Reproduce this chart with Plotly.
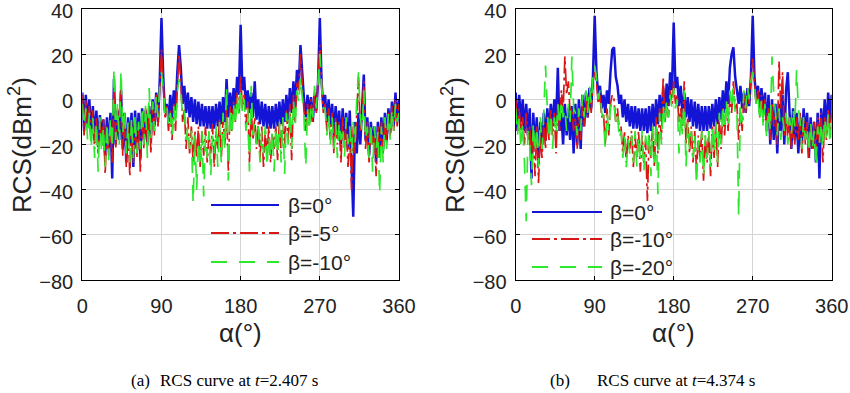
import plotly.graph_objects as go

# sampling of the rotation angle alpha (degrees)
alpha = list(range(0, 361, 2))
x_ticks = [0, 90, 180, 270, 360]
y_ticks = [-80, -60, -40, -20, 0, 20, 40]

# ---------- (a) t = 2.407 s ----------
a_beta0 = [
    3, -14, 2, -12, 0, -16, -3, -18, -5, -21,
    -7, -16, -9, -25, -8, -22, -6, -35, 9, -20,
    -5, -18, 4, -22, -6, -28, -8, -20, -6, -30,
    -5, -22, -6, -26, -4, -18, -5, -20, -3, -16,
    0, -12, 3, -10, 8, 36, 10, -6, -2, -10,
    2, -8, 4, -5, 12, 24, 14, -2, 6, -6,
    3, -8, 1, -10, 0, -11, -1, -12, -2, -12,
    -3, -13, -3, -13, -3, -13, -2, -12, -1, -11,
    1, -10, 9, -8, 3, -6, 5, -4, 10, 2,
    33, 4, 10, -4, 4, -6, 3, -8, 8, -9,
    0, -11, -1, -12, -2, -13, -3, -13, -3, -13,
    -2, -12, -1, -11, 0, -10, 2, -9, 5, -6,
    8, -3, 13, 5, 24, 10, 0, -8, 2, -6,
    1, -10, 2, -5, 8, 36, 8, -4, 2, -10,
    0, -12, -2, -16, -3, -14, -5, -20, -4, -18,
    -6, -22, -5, -28, -52, -10, -24, -6, -20, -4,
    11, -18, -8, -25, -10, -20, -12, -28, -10, -24,
    -8, -22, -6, -18, -4, -15, -1, -12, 3, -10,
    0]
a_beta5 = [
    2, -16, 0, -12, -3, -18, -5, -22, -8, -24,
    -10, -20, -8, -33, -12, -25, -10, -28, 6, -22,
    -4, -15, 8, -25, -8, -30, -12, -34, -10, -28,
    -8, -26, -12, -32, -6, -22, -4, -20, -2, -24,
    -1, -16, 2, -12, 5, 22, 8, -8, -3, -14,
    -5, -18, -2, -14, 6, 20, 8, -10, -4, -22,
    -8, -24, -12, -28, -14, -26, -12, -30, -14, -25,
    -12, -28, -15, -24, -11, -30, -14, -22, -9, -26,
    -8, -20, -4, -32, -3, -14, -1, -10, 3, -6,
    10, -4, 2, -12, -1, -28, -5, -18, -8, -22,
    -10, -26, -12, -30, -14, -25, -12, -28, -15, -22,
    -12, -27, -10, -24, -8, -20, -5, -18, -2, -27,
    2, -10, 8, 4, 20, 6, -5, -14, -2, -12,
    0, -10, 4, -6, 10, 24, 8, -6, -2, -14,
    -4, -18, -6, -24, -8, -20, -10, -28, -8, -22,
    -10, -30, -14, -40, -12, -24, -6, 10, -14, -8,
    8, -22, -10, -28, -12, -20, -14, -34, -12, -26,
    -10, -24, -8, -20, -6, -16, -3, -14, 0, -12,
    -2]
a_beta10 = [
    -2, -12, -4, -18, -6, -22, -8, -26, -10, -32,
    -8, -24, -12, -30, -10, -27, -8, -22, 14, -18,
    -2, -20, 13, -15, -4, -24, -10, -28, -8, -26,
    -6, -24, -10, -22, -3, -20, -2, -26, 5, -18,
    -1, -14, 2, -8, 6, 12, 5, -6, -2, -12,
    -6, -16, -3, -12, 3, 9, 4, -8, -5, -18,
    -12, -22, -14, -46, -16, -40, -18, -30, -14, -43,
    -16, -26, -14, -34, -16, -24, -12, -30, -10, -28,
    -6, -22, 6, -36, -4, -16, -2, -12, 2, -8,
    5, -6, 0, -14, -4, -32, 6, -16, -10, -20,
    -12, -28, -14, -24, -12, -30, -16, -26, -14, -32,
    -12, -25, -10, -28, -8, -33, -6, -20, -4, -22,
    0, -12, 4, -2, 10, 2, -8, -30, -4, -14,
    -2, -8, 6, -4, 8, 20, 6, -4, -4, -16,
    -6, -20, -8, -22, -10, -26, -10, -18, -12, -26,
    -8, -20, -12, -24, -10, -20, 0, 12, -8, -14,
    4, -18, -12, -26, -10, -32, -12, -22, -14, -42,
    -12, -28, -8, -22, -6, -18, -4, -14, -2, -10,
    -6]

# ---------- (b) t = 4.374 s ----------
b_beta0 = [
    3, -14, 2, -10, 0, -14, -2, -16, -4, -35,
    -6, -22, -8, -28, -10, -20, -6, -18, -4, -14,
    -2, -12, 0, -10, 14, -14, -6, -20, -2, -16,
    -4, -18, -3, -24, -2, -20, 0, -22, 2, -12,
    3, -8, 5, -4, 10, 37, 12, 2, 6, -4,
    2, -6, 4, -2, 12, 22, 23, 10, 6, -2,
    2, -8, 0, -10, -2, -12, -3, -13, -3, -13,
    -4, -14, -4, -14, -4, -15, -3, -14, -2, -12,
    0, -11, 2, -9, 5, -6, 7, -3, 12, 4,
    34, 5, 10, -3, 6, -6, 3, -8, 1, -10,
    0, -12, -1, -13, -2, -14, -3, -14, -3, -14,
    -3, -13, -2, -12, 0, -11, 1, -9, 4, -6,
    8, -2, 14, 20, 23, 10, 4, -2, 6, -4,
    3, -6, 5, -3, 10, 37, 10, 0, 6, -4,
    5, -6, 3, -14, 2, -20, 0, -18, -2, -24,
    -2, -14, 2, -20, 4, 12, -6, -22, -4, -18,
    -6, -24, -8, -20, -4, -16, -6, -26, -8, -22,
    -10, -28, -6, -35, -4, -18, 0, -14, 3, -10,
    2]
b_beta10 = [
    0, -14, -4, -16, -8, -20, -6, -18, -12, -26,
    -14, -34, -12, -37, -16, -26, -10, -22, -8, -18,
    -4, -16, -6, -24, -2, -14, 4, -6, 19, 2,
    8, -6, -4, -14, -8, -22, -6, -18, -2, -12,
    0, -8, 2, -6, 8, 12, 8, -2, 2, -8,
    -6, -20, -4, -16, -2, 2, 0, -10, -4, -14,
    -12, -24, -14, -28, -16, -22, -14, -30, -16, -26,
    -14, -32, -16, -28, -18, -45, -16, -26, -12, -30,
    -8, -24, -4, -18, 10, -10, -2, -8, 4, -2,
    8, -2, 2, -10, -4, -14, 8, -20, -8, -24,
    -12, -28, -14, -32, -16, -26, -14, -36, -16, -28,
    -14, -34, -12, -26, -10, -30, -8, -22, -4, -16,
    -2, -14, 2, -6, 8, -4, -2, -18, -4, -14,
    2, -6, 4, -2, 10, 18, 8, -2, 4, -8,
    2, -10, 0, -14, -4, -18, -2, -12, -6, -20,
    17, -4, 12, -16, -6, -18, -8, -22, -10, -20,
    -8, -18, -6, -24, -8, -20, -10, -26, -12, -22,
    -10, -24, -8, -20, -6, -28, -8, -18, -4, -14,
    -6]
b_beta20 = [
    -4, -16, -8, -22, -10, -28, -54, -14, -20, -38,
    -10, -24, -12, -30, -8, -22, -6, 15, -4, -18,
    -6, -22, -8, -16, -2, -12, 0, -8, -4, -14,
    -2, -10, 19, -4, -6, -16, -4, -14, 2, -8,
    4, -6, 6, -2, 10, 15, 10, 0, 4, -6,
    -8, -22, -6, -14, -4, 0, -2, -10, -6, -18,
    -14, -26, -16, -30, -18, -24, -16, -28, -14, -30,
    -16, -26, -14, -32, -16, -24, -14, -34, -12, -28,
    -10, -42, -6, -20, -2, -12, 0, -8, 2, -4,
    5, -4, 0, -24, -6, -16, 4, -30, -10, -22,
    -14, -26, -16, -38, -18, -28, -14, -34, -16, -26,
    -14, -30, -12, -24, -10, -28, -6, -20, -2, -14,
    0, -12, 4, -4, 6, -6, -4, -52, -2, -10,
    4, -4, 6, 0, 8, 12, 6, -2, 2, -10,
    0, -12, -2, -18, -4, -14, 19, 2, -6, -16,
    -4, -18, -8, -14, -6, -20, -8, -16, -4, -12,
    13, -4, -10, -22, -8, -18, -12, -24, -10, -22,
    -14, -30, -12, -20, -10, -22, -8, -18, -6, -20,
    -10]

names_a = ["β=0°", "β=-5°", "β=-10°"]
names_b = ["β=0°", "β=-10°", "β=-20°"]

BLUE = "#1414d6"
RED = "#d81616"
GREEN = "#2ee82e"
colors = [BLUE, RED, GREEN]
dashes = ["solid", "18px,4px,3px,4px", "16px,12px"]
widths = [2.5, 1.7, 1.7]

FONT = "Liberation Sans, Arial, sans-serif"
SERIF = "Liberation Serif, Times New Roman, serif"

fig = go.Figure()
for ys, nm, c, d, w in zip([a_beta0, a_beta5, a_beta10], names_a, colors, dashes, widths):
    fig.add_trace(go.Scatter(x=alpha, y=ys, mode="lines", name=nm,
                             line=dict(color=c, width=w, dash=d),
                             xaxis="x", yaxis="y", showlegend=False))
for ys, nm, c, d, w in zip([b_beta0, b_beta10, b_beta20], names_b, colors, dashes, widths):
    fig.add_trace(go.Scatter(x=alpha, y=ys, mode="lines", name=nm,
                             line=dict(color=c, width=w, dash=d),
                             xaxis="x2", yaxis="y2", showlegend=False))

W, H = 850, 393
ytop, ybot = 9, 280
ydom = [1 - ybot / H, 1 - ytop / H]

axis_common = dict(showgrid=True, gridcolor="#d4d4d4", gridwidth=1,
                   showline=True, linecolor="black", linewidth=1.2, mirror="ticks",
                   ticks="inside", ticklen=4, tickcolor="black", zeroline=False,
                   automargin=False, ticklabeloverflow="allow",
                   tickfont=dict(family=FONT, size=20, color="#222"))

fig.update_layout(
    width=W, height=H, autosize=False,
    margin=dict(l=0, r=0, t=0, b=0, autoexpand=False),
    paper_bgcolor="white", plot_bgcolor="white",
    xaxis=dict(domain=[82.3 / W, 399 / W], range=[0, 360], tickvals=x_ticks,
               anchor="y", ticklabelstandoff=8, **axis_common),
    yaxis=dict(domain=ydom, range=[-80, 40], tickvals=y_ticks,
               anchor="x", ticklabelstandoff=4, ticklabelshift=2, **axis_common),
    xaxis2=dict(domain=[515.7 / W, 831.7 / W], range=[0, 360], tickvals=x_ticks,
                anchor="y2", ticklabelstandoff=8, **axis_common),
    yaxis2=dict(domain=ydom, range=[-80, 40], tickvals=y_ticks,
                anchor="x2", ticklabelstandoff=4, ticklabelshift=2, **axis_common),
)

annotations = []
shapes = []
# axis titles
for cx, ylab_x in [(240.6, 20), (673.7, 453)]:
    annotations.append(dict(text="α(°)", x=cx / W, y=1 - 333 / H, xref="paper", yref="paper",
                            showarrow=False, font=dict(family=FONT, size=26, color="#222"),
                            xanchor="center", yanchor="middle"))
    annotations.append(dict(text="RCS(dBm<sup>2</sup>)", x=ylab_x / W, y=1 - 145 / H,
                            xref="paper", yref="paper", textangle=-90, showarrow=False,
                            font=dict(family=FONT, size=26, color="#222"),
                            xanchor="center", yanchor="middle"))

# manual legends
for (x0, x1, xt, rows, names) in [(211, 279, 286, [205, 233, 262], names_a),
                                  (532, 602, 608, [212, 239, 267], names_b)]:
    for r, nm, c, d in zip(rows, names, colors, dashes):
        shapes.append(dict(type="line", xref="paper", yref="paper",
                           x0=x0 / W, x1=x1 / W, y0=1 - r / H, y1=1 - r / H,
                           line=dict(color=c, width=2, dash=d)))
        annotations.append(dict(text=nm, x=xt / W, y=1 - r / H, xref="paper", yref="paper",
                                showarrow=False, xanchor="left", yanchor="middle",
                                font=dict(family=FONT, size=21, color="#222")))

# captions
for lab_x, txt_x, lab, txt in [(140, 158, "(a)", "RCS curve at <i>t</i>=2.407 s"),
                               (560, 595, "(b)", "RCS curve at <i>t</i>=4.374 s")]:
    annotations.append(dict(text=lab, x=lab_x / W, y=1 - 380 / H, xref="paper", yref="paper",
                            showarrow=False, xanchor="center", yanchor="middle",
                            font=dict(family=SERIF, size=17, color="black")))
    annotations.append(dict(text=txt, x=txt_x / W, y=1 - 380 / H, xref="paper", yref="paper",
                            showarrow=False, xanchor="left", yanchor="middle",
                            font=dict(family=SERIF, size=17, color="black")))

fig.update_layout(annotations=annotations, shapes=shapes)
fig.write_html("out.html", config={"displayModeBar": False},
               post_script="document.body.style.margin='0';document.body.style.padding='0';")
